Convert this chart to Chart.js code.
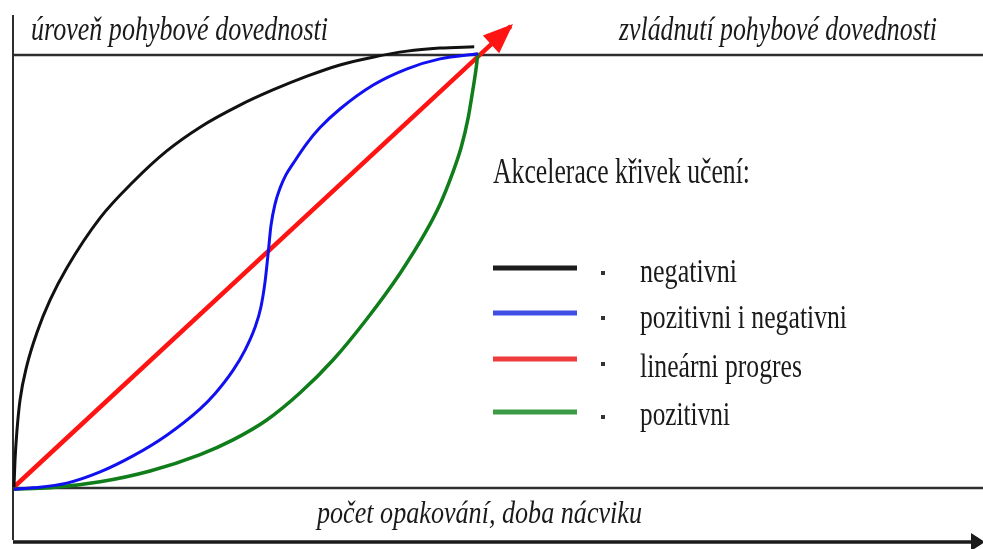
<!DOCTYPE html>
<html lang="cs">
<head>
<meta charset="UTF-8">
<title>Akcelerace křivek učení</title>
<script src="https://cdn.jsdelivr.net/npm/chart.js"></script>
<style>
  html, body { margin: 0; padding: 0; background: #fff; }
  #wrap { width: 983px; height: 549px; }
</style>
</head>
<body>
<div id="wrap"><canvas id="curves" width="983" height="549"></canvas></div>
<script>
// values: x = počet opakování (0-100), y = úroveň dovednosti (0-100)
const negX = [0, 0.22, 0.65, 1.3, 2.8, 5.0, 7.8, 11.4, 18.6, 25.7, 33.0, 40.2, 48.8, 55.9, 63.3, 70.4, 77.5, 84.9, 92.0, 99.4];
const negY = [0, 6.25, 13.2, 20.1, 28.2, 35.9, 43.3, 50.7, 62.3, 70.6, 77.8, 83.3, 88.4, 91.9, 95.1, 97.7, 99.5, 100.9, 101.6, 101.9];

const bothX = [0, 4.1, 11.4, 18.6, 25.7, 33.0, 40.2, 43.4, 47.3, 49.9, 52.0, 53.3, 54.2, 54.9, 55.5, 56.4, 57.5, 58.7, 60.3, 63.3, 66.1, 70.4, 77.5, 84.9, 92.0, 100.2];
const bothY = [-0.5, -0.2, 0.9, 3.5, 7.2, 12.0, 18.1, 21.6, 27.0, 31.7, 36.8, 41.5, 47.3, 54.2, 60.5, 65.6, 69.3, 72.2, 74.9, 79.6, 83.2, 87.5, 93.0, 96.8, 99.1, 100.3];

const linX = [0, 107.3];
const linY = [0, 106.7];

const posX = [0, 7.8, 18.6, 29.4, 40.2, 47.3, 54.6, 61.8, 68.9, 76.2, 83.4, 88.8, 92.0, 94.6, 96.6, 98.1, 99.1, 99.8, 100.2];
const posY = [-0.5, -0.2, 1.2, 3.7, 7.5, 10.9, 15.5, 21.8, 29.4, 38.9, 49.5, 58.8, 65.4, 72.3, 78.7, 85.5, 91.9, 96.8, 100.5];

const seriesNames = ['negativni', 'pozitivni i negativni', 'lineárni progres', 'pozitivni'];
const curveColors = ['#111111', '#1010f0', '#ff1414', '#0f7d1a'];
const legendColors = ['#1c1c1c', '#3f4fe6', '#ef3b3b', '#3d9b45'];

const legendTitle = 'Akcelerace křivek učení:';
const yLabel = 'úroveň pohybové dovednosti';
const topRightLabel = 'zvládnutí pohybové dovednosti';
const xLabel = 'počet opakování, doba nácviku';

function toPoints(xs, ys) {
    return xs.map((x, i) => ({ x: x, y: ys[i] }));
}

// draw text squeezed to a given width (the original lettering is narrow)
function fitText(ctx, text, x, y, font, width) {
    ctx.save();
    ctx.font = font;
    const w = ctx.measureText(text).width;
    ctx.translate(x, y);
    ctx.scale(width / w, 1);
    ctx.fillText(text, 0, 0);
    ctx.restore();
}

function seg(ctx, x1, y1, x2, y2) {
    ctx.beginPath();
    ctx.moveTo(x1, y1);
    ctx.lineTo(x2, y2);
    ctx.stroke();
}

const decor = {
    id: 'decor',
    beforeDatasetsDraw(chart) {
        const ctx = chart.ctx;
        const xs = chart.scales.x, ys = chart.scales.y;
        const left = xs.getPixelForValue(0) - 1;
        const top = ys.getPixelForValue(100);
        const bottom = ys.getPixelForValue(0) + 1;
        ctx.save();
        ctx.strokeStyle = '#2e2e2e';
        ctx.lineWidth = 2.5;
        seg(ctx, left, top, chart.width, top);
        seg(ctx, left, bottom, chart.width, bottom);
        ctx.lineWidth = 2;
        seg(ctx, left, 15, left, 540);
        // time axis with arrow
        ctx.lineWidth = 3.5;
        ctx.strokeStyle = '#1a1a1a';
        seg(ctx, left, 542, 974, 542);
        ctx.fillStyle = '#1a1a1a';
        ctx.beginPath();
        ctx.moveTo(971, 533);
        ctx.lineTo(985, 542);
        ctx.lineTo(971, 551);
        ctx.closePath();
        ctx.fill();
        ctx.restore();
    },
    afterDatasetsDraw(chart) {
        const ctx = chart.ctx;
        const xs = chart.scales.x, ys = chart.scales.y;

        // arrow head on the linear curve
        const x0 = xs.getPixelForValue(linX[0]), y0 = ys.getPixelForValue(linY[0]);
        const x1 = xs.getPixelForValue(linX[1]), y1 = ys.getPixelForValue(linY[1]);
        const a = Math.atan2(y1 - y0, x1 - x0);
        const len = 27, half = 12;
        ctx.save();
        ctx.fillStyle = curveColors[2];
        ctx.beginPath();
        ctx.moveTo(x1 + 3 * Math.cos(a), y1 + 3 * Math.sin(a));
        ctx.lineTo(x1 - len * Math.cos(a) - half * Math.sin(a), y1 - len * Math.sin(a) + half * Math.cos(a));
        ctx.lineTo(x1 - len * Math.cos(a) + half * Math.sin(a), y1 - len * Math.sin(a) - half * Math.cos(a));
        ctx.closePath();
        ctx.fill();

        // axis captions
        ctx.fillStyle = '#1a1a1a';
        ctx.textBaseline = 'alphabetic';
        fitText(ctx, yLabel, 31, 40, 'italic 34px "Liberation Serif"', 297);
        fitText(ctx, topRightLabel, 619, 40, 'italic 34px "Liberation Serif"', 318);
        fitText(ctx, xLabel, 317, 523, 'italic 32px "Liberation Serif"', 325);

        // legend
        fitText(ctx, legendTitle, 493, 183, '35px "Liberation Serif"', 257);
        const rowLine = [268, 313, 359, 412];
        const rowText = [282, 328, 377, 425];
        const rowWidth = [97, 207, 162, 90];
        seriesNames.forEach((name, i) => {
            ctx.strokeStyle = legendColors[i];
            ctx.lineWidth = 5;
            seg(ctx, 493, rowLine[i], 577, rowLine[i]);
            ctx.fillStyle = '#333';
            ctx.fillRect(601, rowLine[i] + 3, 4, 4);
            ctx.fillStyle = '#1a1a1a';
            fitText(ctx, name, 640, rowText[i], '34px "Liberation Serif"', rowWidth[i]);
        });
        ctx.restore();
    }
};

const lineStyle = {
    showLine: true,
    pointRadius: 0,
    fill: false,
    clip: false,
    cubicInterpolationMode: 'monotone'
};

new Chart(document.getElementById('curves'), {
    type: 'scatter',
    data: {
        datasets: [
            Object.assign({ label: seriesNames[0], data: toPoints(negX, negY), borderColor: curveColors[0], borderWidth: 3 }, lineStyle),
            Object.assign({ label: seriesNames[1], data: toPoints(bothX, bothY), borderColor: curveColors[1], borderWidth: 3 }, lineStyle),
            Object.assign({ label: seriesNames[3], data: toPoints(posX, posY), borderColor: curveColors[3], borderWidth: 3.5 }, lineStyle),
            Object.assign({ label: seriesNames[2], data: toPoints(linX, linY), borderColor: curveColors[2], borderWidth: 4.5 }, lineStyle)
        ]
    },
    options: {
        responsive: false,
        animation: false,
        layout: { padding: { left: 14, right: 506, top: 55, bottom: 62 } },
        scales: {
            x: { type: 'linear', min: 0, max: 100, display: false },
            y: { type: 'linear', min: 0, max: 100, display: false }
        },
        plugins: {
            legend: { display: false },
            tooltip: { enabled: false }
        }
    },
    plugins: [decor]
});
</script>
</body>
</html>
